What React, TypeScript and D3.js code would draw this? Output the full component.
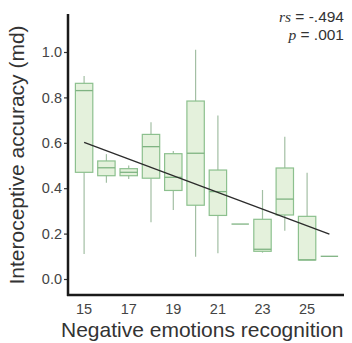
import React, { useEffect, useRef } from 'react';
import * as d3 from 'd3';

// emotion recognition scores (x categories)
const scores = [15, 16, 17, 18, 19, 20, 21, 22, 23, 24, 25, 26];
// box stats per score
const whiskerLow = [0.11, 0.424, 0.44, 0.25, 0.304, 0.098, 0.113, 0.242, 0.116, 0.213, 0.084, 0.1];
const q1 = [0.47, 0.455, 0.455, 0.444, 0.39, 0.325, 0.28, 0.242, 0.122, 0.282, 0.084, 0.1];
const medians = [0.83, 0.49, 0.47, 0.583, 0.448, 0.554, 0.385, 0.242, 0.131, 0.352, 0.084, 0.1];
const q3 = [0.862, 0.52, 0.486, 0.637, 0.552, 0.784, 0.48, 0.242, 0.263, 0.489, 0.276, 0.1];
const whiskerHigh = [0.894, 0.55, 0.5, 0.69, 0.564, 1.01, 0.72, 0.242, 0.392, 0.627, 0.468, 0.1];

const yTicks = [0, 0.2, 0.4, 0.6, 0.8, 1.0];
const xTickLabels = [15, 17, 19, 21, 23, 25];
// fitted regression line end points
const fitX = [15, 26];
const fitY = [0.602, 0.198];

const App = () => {
  const svgRef = useRef(null);

  useEffect(() => {
    const svg = d3.select(svgRef.current);
    svg.selectAll('*').remove();

    const axisX = 68;
    const axisY = 295;
    const font = 'Arial, Liberation Sans, sans-serif';

    const x = d3.scaleBand()
      .domain(scores.map(String))
      .range([70.5, 343])
      .padding(0.22);

    const y = d3.scaleLinear()
      .domain([0, 1])
      .range([279, 52]);

    const cx = (s) => x(String(s)) + x.bandwidth() / 2;

    const data = scores.map((s, i) => ({
      s, lo: whiskerLow[i], q1: q1[i], med: medians[i], q3: q3[i], hi: whiskerHigh[i]
    }));

    const g = svg.append('g');

    // whiskers
    g.selectAll('.whisker')
      .data(data)
      .enter().append('line')
      .attr('x1', d => cx(d.s))
      .attr('x2', d => cx(d.s))
      .attr('y1', d => y(d.lo))
      .attr('y2', d => y(d.hi))
      .attr('stroke', '#a3bfa4')
      .attr('stroke-width', 1.2);

    // boxes
    g.selectAll('.box')
      .data(data)
      .enter().append('rect')
      .attr('x', d => x(String(d.s)))
      .attr('width', x.bandwidth())
      .attr('y', d => y(d.q3))
      .attr('height', d => Math.max(0, y(d.q1) - y(d.q3)))
      .attr('fill', '#e4f1dc')
      .attr('stroke', '#8cc08e')
      .attr('stroke-width', 1.2);

    // medians
    g.selectAll('.median')
      .data(data)
      .enter().append('line')
      .attr('x1', d => x(String(d.s)))
      .attr('x2', d => x(String(d.s)) + x.bandwidth())
      .attr('y1', d => y(d.med))
      .attr('y2', d => y(d.med))
      .attr('stroke', '#7fb382')
      .attr('stroke-width', 1.3);

    // regression line
    const line = d3.line()
      .x(d => cx(d[0]))
      .y(d => y(d[1]));

    g.append('path')
      .datum(fitX.map((v, i) => [v, fitY[i]]))
      .attr('d', line)
      .attr('fill', 'none')
      .attr('stroke', '#2b2b2b')
      .attr('stroke-width', 1.3);

    // axes
    const yAxis = g.append('g')
      .attr('transform', `translate(${axisX},0)`)
      .call(d3.axisLeft(y).tickValues(yTicks).tickFormat(d3.format('.1f')).tickSize(4).tickSizeOuter(0));
    yAxis.select('.domain').remove();
    yAxis.selectAll('line').attr('stroke', '#333').attr('stroke-width', 1.2);
    yAxis.selectAll('text')
      .attr('x', -6)
      .style('font-family', font)
      .style('font-size', '14.5px')
      .style('fill', '#444');

    const xAxis = g.append('g')
      .attr('transform', `translate(0,${axisY})`)
      .call(d3.axisBottom(x).tickValues(xTickLabels.map(String)).tickSize(0));
    xAxis.select('.domain').remove();
    xAxis.selectAll('text')
      .attr('y', 9)
      .style('font-family', font)
      .style('font-size', '14.5px')
      .style('fill', '#444');

    g.append('line')
      .attr('x1', axisX).attr('x2', axisX)
      .attr('y1', 14).attr('y2', axisY + 1)
      .attr('stroke', '#1a1a1a')
      .attr('stroke-width', 2.5);

    g.append('line')
      .attr('x1', axisX - 1).attr('x2', 344)
      .attr('y1', axisY).attr('y2', axisY)
      .attr('stroke', '#1a1a1a')
      .attr('stroke-width', 2.5);

    // axis titles
    g.append('text')
      .attr('transform', `translate(24,155) rotate(-90)`)
      .attr('text-anchor', 'middle')
      .style('font-family', font)
      .style('font-size', '21px')
      .style('fill', '#333')
      .text('Interoceptive accuracy (md)');

    g.append('text')
      .attr('x', 61)
      .attr('y', 337)
      .style('font-family', font)
      .style('font-size', '21px')
      .style('fill', '#333')
      .text('Negative emotions recognition');

    // stats annotation
    const ann = g.append('g')
      .style('font-size', '15.5px')
      .style('fill', '#333');

    const t1 = ann.append('text').attr('x', 344).attr('y', 22).attr('text-anchor', 'end');
    t1.append('tspan').style('font-family', 'Liberation Serif, serif').style('font-style', 'italic').text('rs');
    t1.append('tspan').style('font-family', font).text(' = -.494');

    const t2 = ann.append('text').attr('x', 344).attr('y', 40).attr('text-anchor', 'end');
    t2.append('tspan').style('font-family', 'Liberation Serif, serif').style('font-style', 'italic').text('p');
    t2.append('tspan').style('font-family', font).text(' = .001');
  }, []);

  return (
    <svg
      ref={svgRef}
      width={352}
      height={343}
      style={{ position: 'absolute', left: 0, top: 0, background: '#fff' }}
    />
  );
};

export default App;
